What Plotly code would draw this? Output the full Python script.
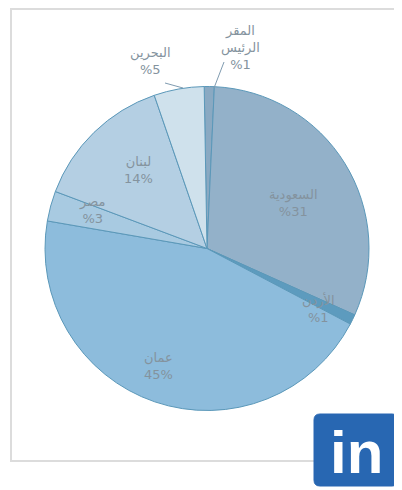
import plotly.graph_objects as go

OFF = 8  # page body margin
W, H = 402 - OFF, 490 - OFF

# ---- data ----
countries = ["المقر الرئيس", "السعودية", "الأردن", "عمان", "مصر", "لبنان", "البحرين"]
shares = [1, 31, 1, 45, 3, 14, 5]
pct_labels = ["%1", "%31", "%1", "45%", "%3", "14%", "%5"]
name_lines = ["المقر<br>الرئيس", "السعودية", "الأردن", "عمان", "مصر", "لبنان", "البحرين"]

# ---- style ----
colors = ["#8aa9c2", "#93b1c9", "#5d9bbe", "#8dbcdc", "#a8cae1", "#b4cfe3", "#cfe1ec"]
label_pos = [(240, 47), (293, 203), (318, 308), (158, 366), (92, 210), (138, 170), (150, 61)]


def px(x):
    return (x - OFF) / W


def py(y):
    return 1 - (y - OFF) / H


fig = go.Figure()
fig.add_trace(go.Pie(
    labels=countries,
    values=shares,
    sort=False,
    direction="clockwise",
    rotation=-1,
    marker=dict(colors=colors, line=dict(color="#5b98b9", width=1)),
    textinfo="none",
    hoverinfo="label+percent",
    showlegend=False,
    domain=dict(x=[px(45), px(369)], y=[py(411), py(86)]),
))

annotations = []
for name, pct, (x, y) in zip(name_lines, pct_labels, label_pos):
    annotations.append(dict(
        x=px(x), y=py(y), xref="paper", yref="paper",
        text=f"{name}<br>{pct}", showarrow=False,
        font=dict(family="DejaVu Sans, Noto Sans", size=13, color="#84939e"),
        align="center", xanchor="center", yanchor="middle",
    ))

# LinkedIn badge text
annotations.append(dict(
    x=px(356), y=py(452), xref="paper", yref="paper", text="<b>in</b>",
    showarrow=False, font=dict(family="Liberation Sans, Arial", size=60, color="white"),
    xanchor="center", yanchor="middle",
))

shapes = [
    # frame
    dict(type="rect", xref="paper", yref="paper", x0=px(11), y0=py(461), x1=px(396), y1=py(9),
         line=dict(color="#dcdcdc", width=2), fillcolor="rgba(0,0,0,0)", layer="below"),
    # leader lines
    dict(type="line", xref="paper", yref="paper", x0=px(214), y0=py(88), x1=px(224), y1=py(62),
         line=dict(color="#7f9bb0", width=1)),
    dict(type="line", xref="paper", yref="paper", x0=px(165), y0=py(83), x1=px(183), y1=py(88),
         line=dict(color="#7f9bb0", width=1)),
    # LinkedIn badge
    dict(type="path", xref="paper", yref="paper",
         path=(f"M {px(320)},{py(414)} L {px(392)},{py(414)} Q {px(398)},{py(414)} {px(398)},{py(420)} "
               f"L {px(398)},{py(480)} Q {px(398)},{py(486)} {px(392)},{py(486)} "
               f"L {px(320)},{py(486)} Q {px(314)},{py(486)} {px(314)},{py(480)} "
               f"L {px(314)},{py(420)} Q {px(314)},{py(414)} {px(320)},{py(414)} Z"),
         fillcolor="#2867b2", line=dict(color="#2867b2", width=1)),
]

fig.update_layout(
    width=W, height=H,
    margin=dict(l=0, r=0, t=0, b=0),
    paper_bgcolor="white", plot_bgcolor="white",
    annotations=annotations, shapes=shapes,
)

fig.write_html("out.html")
